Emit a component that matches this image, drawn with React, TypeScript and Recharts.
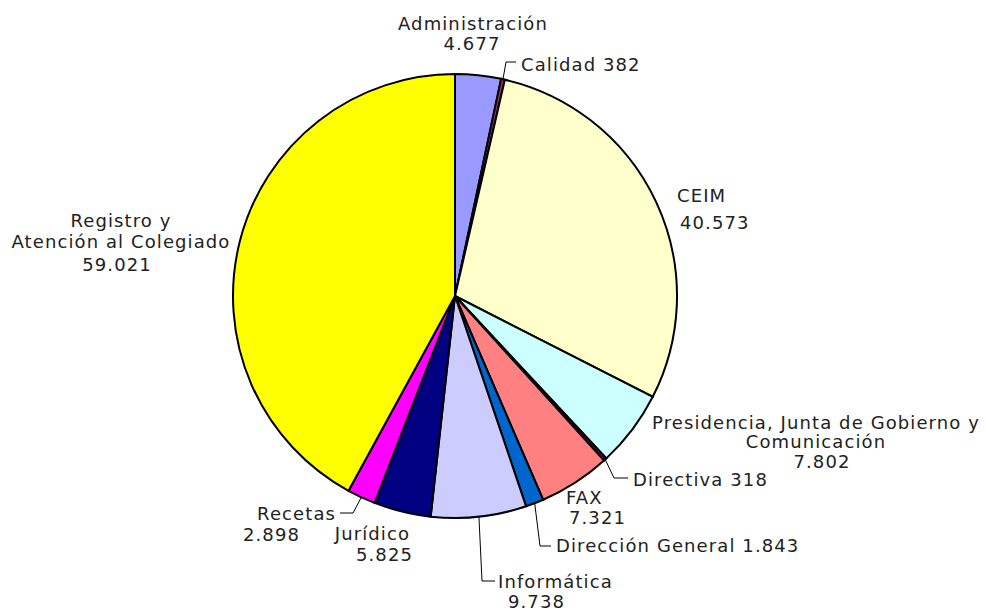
// Pie chart: calls by department, Excel-style labels with leader lines.

import { PieChart, Pie, Cell } from "recharts";

const categories = [
  "Administración",
  "Calidad",
  "CEIM",
  "Presidencia, Junta de Gobierno y Comunicación",
  "Directiva",
  "FAX",
  "Dirección General",
  "Informática",
  "Jurídico",
  "Recetas",
  "Registro y Atención al Colegiado",
];

const values = [4677, 382, 40573, 7802, 318, 7321, 1843, 9738, 5825, 2898, 59021];

const colors = [
  "#9999FF",
  "#993366",
  "#FFFFCC",
  "#CCFFFF",
  "#660066",
  "#FF8080",
  "#0066CC",
  "#CCCCFF",
  "#000080",
  "#FF00FF",
  "#FFFF00",
];

// how each category name breaks onto lines in its label
const nameLines = [
  ["Administración"],
  ["Calidad"],
  ["CEIM"],
  ["Presidencia, Junta de Gobierno y", "Comunicación"],
  ["Directiva"],
  ["FAX"],
  ["Dirección General"],
  ["Informática"],
  ["Jurídico"],
  ["Recetas"],
  ["Registro y", "Atención al Colegiado"],
];

const data = categories.map((name, i) => ({ name, value: values[i] }));

const fmt = (v: number) => String(v).replace(/\B(?=(\d{3})+(?!\d))/g, ".");

type Row = { text: string; dx: number; dy: number; anchor: "start" | "middle" | "end" };
type LabelLayout = { rows: Row[]; leader?: [number, number][] };

// label placement, offsets from the pie centre
const labelLayout: LabelLayout[] = [
  { rows: [
    { text: "{n0}", dx: 18, dy: -273, anchor: "middle" },
    { text: "{v}", dx: 17, dy: -253, anchor: "middle" },
  ] },
  { rows: [{ text: "{n0} {v}", dx: 66, dy: -232, anchor: "start" }],
    leader: [[51, -234], [61, -234]] },
  { rows: [
    { text: "{n0}", dx: 222, dy: -101, anchor: "start" },
    { text: "{v}", dx: 225, dy: -74, anchor: "start" },
  ] },
  { rows: [
    { text: "{n0}", dx: 361, dy: 126, anchor: "middle" },
    { text: "{n1}", dx: 361, dy: 145, anchor: "middle" },
    { text: "{v}", dx: 367, dy: 165, anchor: "middle" },
  ] },
  { rows: [{ text: "{n0} {v}", dx: 178, dy: 183, anchor: "start" }],
    leader: [[159, 182], [173, 182]] },
  { rows: [
    { text: "{n0}", dx: 111, dy: 201, anchor: "start" },
    { text: "{v}", dx: 114, dy: 221, anchor: "start" },
  ] },
  { rows: [{ text: "{n0} {v}", dx: 101, dy: 249, anchor: "start" }],
    leader: [[85, 250], [96, 250]] },
  { rows: [
    { text: "{n0}", dx: 43, dy: 285, anchor: "start" },
    { text: "{v}", dx: 53, dy: 305, anchor: "start" },
  ],
    leader: [[27, 285], [40, 285]] },
  { rows: [
    { text: "{n0}", dx: -45, dy: 237, anchor: "end" },
    { text: "{v}", dx: -42, dy: 258, anchor: "end" },
  ] },
  { rows: [
    { text: "{n0}", dx: -119, dy: 217, anchor: "end" },
    { text: "{v}", dx: -212, dy: 238, anchor: "start" },
  ],
    leader: [[-102, 217], [-115, 217]] },
  { rows: [
    { text: "{n0}", dx: -334, dy: -76, anchor: "middle" },
    { text: "{n1}", dx: -334, dy: -55, anchor: "middle" },
    { text: "{v}", dx: -338, dy: -32, anchor: "middle" },
  ] },
];

const RAD = Math.PI / 180;

const renderLabel = (props: any) => {
  const { cx, cy, midAngle, outerRadius, index } = props;
  const layout = labelLayout[index];
  const names = nameLines[index];
  const fill = (t: string) =>
    t.replace("{n0}", names[0] ?? "").replace("{n1}", names[1] ?? "").replace("{v}", fmt(values[index]));

  let leader = null;
  if (layout.leader) {
    const sx = cx + outerRadius * Math.cos(-midAngle * RAD);
    const sy = cy + outerRadius * Math.sin(-midAngle * RAD);
    const pts = [[sx, sy], ...layout.leader.map(([x, y]) => [cx + x, cy + y])];
    leader = (
      <polyline
        points={pts.map((p) => p.join(",")).join(" ")}
        fill="none"
        stroke="#000"
        strokeWidth={1}
      />
    );
  }

  return (
    <g key={`lbl-${index}`}>
      {leader}
      {layout.rows.map((r, i) => (
        <text
          key={i}
          x={cx + r.dx}
          y={cy + r.dy}
          textAnchor={r.anchor}
          dominantBaseline="central"
          fontFamily="'DejaVu Sans', Verdana, sans-serif"
          fontSize={18}
          letterSpacing={1.1}
          fill="#222"
        >
          {fill(r.text)}
        </text>
      ))}
    </g>
  );
};

export default function App() {
  return (
    <div style={{ position: "absolute", left: 0, top: 0, width: 986, height: 613, background: "#fff" }}>
      <PieChart width={986} height={613} margin={{ top: 0, right: 0, bottom: 0, left: 0 }}>
        <Pie
          data={data}
          dataKey="value"
          nameKey="name"
          cx={455}
          cy={296}
          outerRadius={222}
          startAngle={90}
          endAngle={-270}
          stroke="#000"
          strokeWidth={2}
          label={renderLabel}
          labelLine={false}
          isAnimationActive={false}
        >
          {data.map((d, i) => (
            <Cell key={d.name} fill={colors[i]} />
          ))}
        </Pie>
      </PieChart>
    </div>
  );
}
